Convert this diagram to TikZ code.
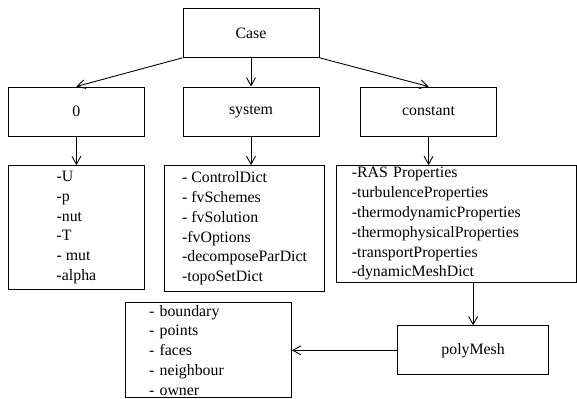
\documentclass[tikz,border=0pt]{standalone}
\usepackage{fontspec}
\setmainfont{Liberation Serif}
\usetikzlibrary{positioning, calc, arrows.meta}

\begin{document}
\begin{tikzpicture}[
    node distance=29pt and 38pt,
    font=\fontsize{16}{20}\selectfont,
    block/.style={rectangle, draw, line width=0.9pt, minimum width=137.5pt, minimum height=49.5pt, align=center},
    listbox/.style={rectangle, draw, line width=0.9pt, align=left, inner ysep=1pt},
    arrow/.style={-{Straight Barb[length=8pt, width=9pt]}, line width=0.9pt}
]

% Case folders
\node[block] (case) {Case};
\node[block, below=of case] (system) {system};
\node[block, left=of system] (zero) {0};
\node[block, right=41pt of system] (constant) {constant};

% Folder contents
\node[listbox, below=of zero, minimum width=137pt, minimum height=125pt] (zerolist) {-U\\-p\\-nut\\-T\\- mut\\-alpha};
\node[listbox, below=of system, xshift=-6.5pt, minimum width=161pt, minimum height=127pt] (systemlist) {- ControlDict\\- fvSchemes\\- fvSolution\\-fvOptions\\-decomposeParDict\\-topoSetDict};
\node[listbox, below=of constant, xshift=28pt, text width=211pt, inner xsep=16pt, minimum height=118pt] (constantlist) {-RAS Properties\\-turbulenceProperties\\-thermodynamicProperties\\-thermophysicalProperties\\-transportProperties\\-dynamicMeshDict};
\node[block, below=43pt of constantlist, xshift=17pt, minimum width=153pt] (polymesh) {polyMesh};
\node[listbox, left=106pt of polymesh, text width=120pt, inner xsep=24pt, inner ysep=0.5pt, minimum height=96pt] (meshlist) {- boundary\\- points\\- faces\\- neighbour\\- owner};

% Arrows
\draw[arrow] (case.south west) -- (zero.north);
\draw[arrow] (case) -- (system);
\draw[arrow] (case.south east) -- (constant.north);
\draw[arrow] (zero) -- (zerolist);
\draw[arrow] (system.south) -- (system.south |- systemlist.north);
\draw[arrow] (constant.south) -- (constant.south |- constantlist.north);
\draw[arrow] (polymesh.north |- constantlist.south) -- (polymesh.north);
\draw[arrow] (polymesh) -- (meshlist);

\useasboundingbox ($(zero.west |- case.north)+(-8pt,8pt)$) rectangle ++(577pt,-401pt);
\end{tikzpicture}
\end{document}
